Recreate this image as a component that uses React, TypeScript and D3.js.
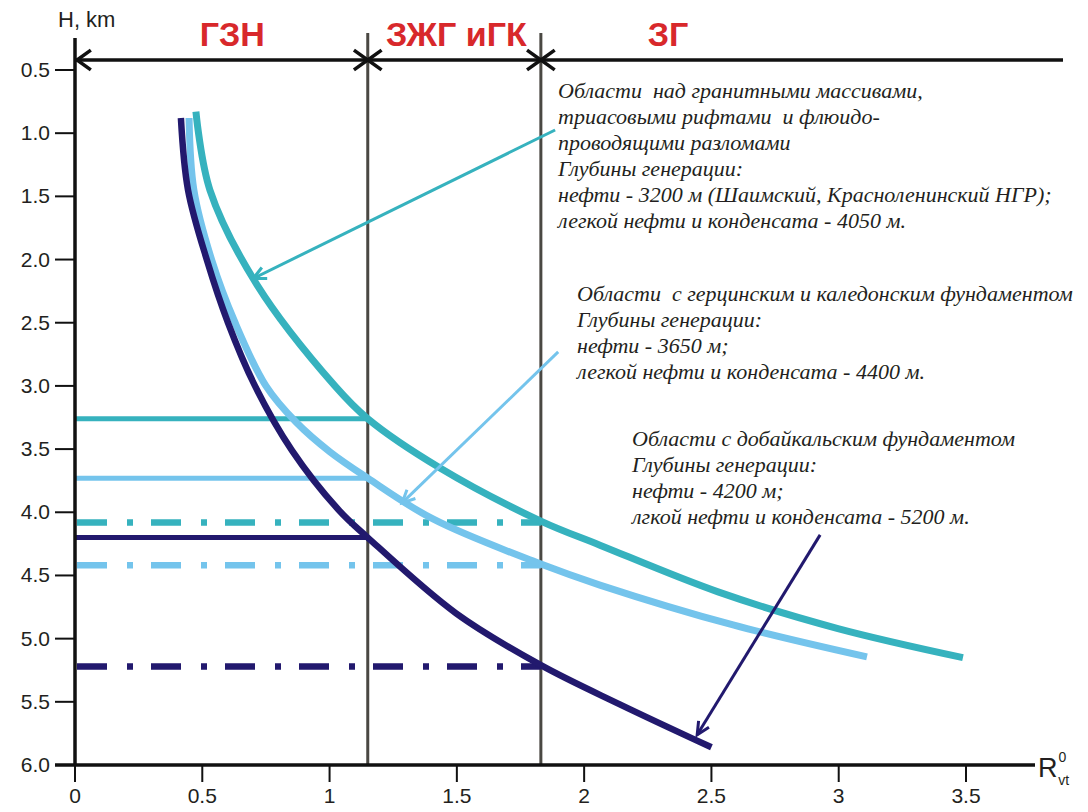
import React from "react";
import * as d3 from "d3";

// ---- Data ----
const X_TICKS = [0, 0.5, 1, 1.5, 2, 2.5, 3, 3.5];
const Y_TICKS = [0.5, 1.0, 1.5, 2.0, 2.5, 3.0, 3.5, 4.0, 4.5, 5.0, 5.5, 6.0];

const ZONE_BOUNDS = [1.15, 1.83];
const ZONE_NAMES = ["ГЗН", "ЗЖГ иГК", "ЗГ"];

// Curves: R0vt vs H (km)
const tealR = [0.475, 0.53, 0.715, 1.021, 1.15, 1.434, 1.83, 2.062, 2.526, 2.997, 3.488];
const tealH = [0.83, 1.45, 2.2, 3.0, 3.26, 3.65, 4.07, 4.26, 4.63, 4.92, 5.15];

const lightR = [0.448, 0.467, 0.538, 0.629, 0.75, 0.868, 1.002, 1.15, 1.406, 1.83, 2.062, 2.585, 3.111];
const lightH = [0.88, 1.45, 2.01, 2.5, 3.0, 3.286, 3.523, 3.73, 4.053, 4.41, 4.576, 4.892, 5.145];

const navyR = [0.416, 0.444, 0.519, 0.601, 0.707, 0.852, 1.035, 1.15, 1.497, 1.83, 2.14, 2.5];
const navyH = [0.88, 1.45, 2.01, 2.5, 3.0, 3.51, 3.98, 4.2, 4.8, 5.21, 5.52, 5.86];

// Generation depths (km): oil (solid, to 1st boundary) and light oil/condensate (dash-dot, to 2nd boundary)
const OIL_DEPTH = [3.26, 3.73, 4.2];
const COND_DEPTH = [4.08, 4.42, 5.22];

const COLORS = ["#36b2be", "#74c4ec", "#22196e"];

// Annotation texts
const NOTE1 = [
  "Области  над гранитными массивами,",
  "триасовыми рифтами  и флюидо-",
  "проводящими разломами",
  "Глубины генерации:",
  "нефти - 3200 м (Шаимский, Красноленинский НГР);",
  "легкой нефти и конденсата - 4050 м.",
];
const NOTE2 = [
  "Области  с герцинским и каледонским фундаментом",
  "Глубины генерации:",
  "нефти - 3650 м;",
  "легкой нефти и конденсата - 4400 м.",
];
const NOTE3 = [
  "Области с добайкальским фундаментом",
  "Глубины генерации:",
  "нефти - 4200 м;",
  "лгкой нефти и конденсата - 5200 м.",
];

// Annotation arrows [fromR, fromH, toR, toH]
const ARROWS = [
  [1.886, 0.975, 0.7, 2.15],
  [1.898, 2.731, 1.285, 3.926],
  [2.927, 4.179, 2.444, 5.761],
];

export default function App() {
  const W = 1088, H = 812;
  const x = d3.scaleLinear().domain([0, 3.5]).range([75, 966]);
  const y = d3.scaleLinear().domain([0.5, 6]).range([70, 765]);

  const line = d3
    .line<[number, number]>()
    .x((d) => x(d[0]))
    .y((d) => y(d[1]))
    .curve(d3.curveCatmullRom.alpha(0.5));

  const series = [
    { r: tealR, h: tealH, w: 7 },
    { r: lightR, h: lightH, w: 7 },
    { r: navyR, h: navyH, w: 6.5 },
  ];

  const arrowTop = 60;
  const axisX = x(0);
  const axisY = y(6);
  const b1 = x(ZONE_BOUNDS[0]);
  const b2 = x(ZONE_BOUNDS[1]);
  const rightEnd = 1063;

  const head = (px: number, py: number, dir: number, len = 17, spread = 0.62) => {
    const a1 = dir + Math.PI - spread;
    const a2 = dir + Math.PI + spread;
    return `M${px + len * Math.cos(a1)},${py + len * Math.sin(a1)} L${px},${py} L${px + len * Math.cos(a2)},${py + len * Math.sin(a2)}`;
  };

  const zoneCenters = [
    (x(0) + b1) / 2 + 11,
    (b1 + b2) / 2 + 2,
    (b2 + rightEnd) / 2 - 134,
  ];

  const serif = "'Liberation Serif', 'DejaVu Serif', serif";
  const sans = "'Liberation Sans', Arial, sans-serif";

  const note = (lines: string[], x0: number, y0: number, key: string) =>
    lines.map((t, i) => (
      <text key={key + i} x={x0} y={y0 + i * 26} xmlSpace="preserve" style={{ whiteSpace: "pre" }}>
        {t}
      </text>
    ));

  return (
    <svg
      width={W}
      height={H}
      style={{ position: "absolute", left: 0, top: 0, background: "#fff" }}
    >
      <rect width={W} height={H} fill="#fff" />

      {/* zone boundaries */}
      {ZONE_BOUNDS.map((b, i) => (
        <line key={i} x1={x(b)} x2={x(b)} y1={33} y2={axisY} stroke="#4a4843" strokeWidth={3} />
      ))}

      {/* top zone arrow line */}
      <line x1={axisX} x2={rightEnd} y1={arrowTop} y2={arrowTop} stroke="#111" strokeWidth={3.5} />
      <g stroke="#111" strokeWidth={3.5} fill="none">
        <path d={head(axisX + 2, arrowTop, Math.PI)} />
        <path d={head(b1, arrowTop, 0)} />
        <path d={head(b1, arrowTop, Math.PI)} />
        <path d={head(b2, arrowTop, 0)} />
        <path d={head(b2, arrowTop, Math.PI)} />
      </g>
      {ZONE_NAMES.map((n, i) => (
        <text
          key={n}
          x={zoneCenters[i]}
          y={46}
          textAnchor="middle"
          fontFamily={sans}
          fontWeight="bold"
          fontSize={34}
          fill="#d8282b"
        >
          {n}
        </text>
      ))}

      {/* generation depth lines */}
      {OIL_DEPTH.map((d, i) => (
        <line key={"o" + i} x1={axisX} x2={b1} y1={y(d)} y2={y(d)} stroke={COLORS[i]} strokeWidth={5} />
      ))}
      {COND_DEPTH.map((d, i) => (
        <line
          key={"c" + i}
          x1={axisX + 2}
          x2={b2}
          y1={y(d)}
          y2={y(d)}
          stroke={COLORS[i]}
          strokeWidth={6.5}
          strokeDasharray="30 20 6 18"
        />
      ))}

      {/* curves */}
      {series.map((s, i) => (
        <path
          key={i}
          d={line(s.r.map((r, k) => [r, s.h[k]] as [number, number])) || ""}
          fill="none"
          stroke={COLORS[i]}
          strokeWidth={s.w}
        />
      ))}

      {/* annotation arrows */}
      {ARROWS.map((a, i) => {
        const x1 = x(a[0]), y1 = y(a[1]), x2 = x(a[2]), y2 = y(a[3]);
        const ang = Math.atan2(y2 - y1, x2 - x1);
        return (
          <g key={i} stroke={COLORS[i]} strokeWidth={3} fill="none">
            <line x1={x1} y1={y1} x2={x2} y2={y2} />
            <path d={head(x2, y2, ang, 14, 0.45)} />
          </g>
        );
      })}

      {/* axes */}
      <line x1={axisX} x2={axisX} y1={38} y2={axisY} stroke="#111" strokeWidth={3.5} />
      <line x1={55} x2={1035} y1={axisY} y2={axisY} stroke="#111" strokeWidth={3.5} />
      {Y_TICKS.map((t) => (
        <g key={"y" + t}>
          <line x1={55} x2={axisX} y1={y(t)} y2={y(t)} stroke="#111" strokeWidth={2} />
          <text
            x={50}
            y={y(t) + 7}
            textAnchor="end"
            fontFamily={sans}
            fontSize={21}
            fill="#231f20"
          >
            {d3.format(".1f")(t)}
          </text>
        </g>
      ))}
      {X_TICKS.map((t) => (
        <g key={"x" + t}>
          <line x1={x(t)} x2={x(t)} y1={axisY} y2={axisY + 17} stroke="#111" strokeWidth={2} />
          <text
            x={x(t)}
            y={axisY + 38}
            textAnchor="middle"
            fontFamily={sans}
            fontSize={21}
            fill="#231f20"
          >
            {d3.format("~g")(t)}
          </text>
        </g>
      ))}
      <text x={58} y={27} fontFamily={sans} fontSize={22} fill="#231f20">
        H, km
      </text>
      <text x={1038} y={777} fontFamily={sans} fontSize={27} fill="#231f20">
        R
        <tspan fontSize={14} dx={1} dy={-15}>0</tspan>
        <tspan fontSize={14} dx={-8} dy={23}>vt</tspan>
      </text>

      {/* notes */}
      <g fontFamily={serif} fontStyle="italic" fontSize={22} fill="#231f20">
        {note(NOTE1, 558, 98, "n1")}
        {note(NOTE2, 577, 301, "n2")}
        {note(NOTE3, 632, 446, "n3")}
      </g>
    </svg>
  );
}
